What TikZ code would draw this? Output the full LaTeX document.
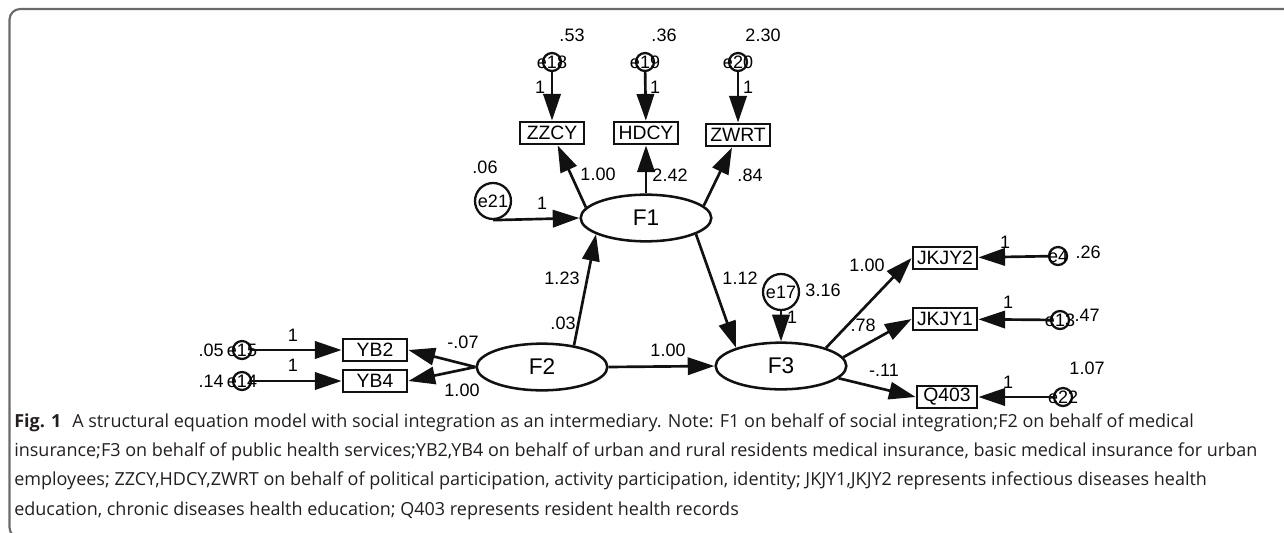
\documentclass[tikz,border=0pt]{standalone}
\usepackage{fontspec}
\setmainfont{Liberation Sans}
\newfontfamily\capfont{Open Sans}
\usepackage{xcolor}
\definecolor{cLine}{HTML}{111111}
\definecolor{cFrame}{HTML}{6A6A6A}
\definecolor{cText}{HTML}{231F20}
\usepackage{tikz}
\usetikzlibrary{positioning,arrows.meta,shapes.geometric}
\tikzset{
  node-obs/.style={draw=cLine,line width=2.1pt,rectangle,inner sep=0pt,
    minimum width=48pt,minimum height=16.5pt,font=\fontsize{14.5}{14.5}\selectfont},
  node-latent/.style={draw=cLine,line width=1.9pt,ellipse,inner sep=0pt,
    minimum width=98pt,minimum height=35pt,font=\fontsize{17}{17}\selectfont},
  node-err/.style={draw=cLine,line width=1.7pt,circle,inner sep=0pt,minimum size=13.5pt,
    label={[font=\fontsize{13.5}{14}\selectfont]center:#1}},
  node-err-big/.style={draw=cLine,line width=1.7pt,circle,inner sep=0pt,minimum size=27pt,
    font=\fontsize{13.5}{14}\selectfont},
  num/.style={inner sep=0pt,font=\fontsize{13.5}{14}\selectfont},
  arrow/.style={-{Triangle[length=20pt,width=13pt]},line width=2pt,draw=cLine},
}

\begin{document}
\begin{tikzpicture}[x=0.75pt,y=-0.75pt]
  \useasboundingbox (0,0) rectangle (1284,532);
  \draw[cFrame,line width=1.6pt,rounded corners=8pt] (1300,9) -- (9.5,9) -- (9.5,538) -- (1300,538);
  % indicators of F1
  \node[node-obs] (zzcy) at (552,133) {ZZCY};
  \node[node-obs] (hdcy) at (646,133) {HDCY};
  \node[node-obs] (zwrt) at (738,135) {ZWRT};
  \node[node-err=e18] (e18) at (552,62) {};
  \node[node-err=e19] (e19) at (645,62) {};
  \node[node-err=e20] (e20) at (738,62) {};
  % latent variables
  \node[node-latent] (f1) at (646,218) {F1};
  \node[node-latent] (f2) at (542,367) {F2};
  \node[node-latent] (f3) at (781,366) {F3};
  \node[node-err-big] (e21) at (493,201) {e21};
  \node[node-err-big] (e17) at (781,292) {e17};
  % indicators of F2
  \node[node-obs] (yb2) at (375,350) {YB2};
  \node[node-obs] (yb4) at (375,381) {YB4};
  \node[node-err=e15] (e15) at (242,350) {};
  \node[node-err=e14] (e14) at (242,381) {};
  % indicators of F3
  \node[node-obs] (jkjy2) at (945,258) {JKJY2};
  \node[node-obs] (jkjy1) at (945,319) {JKJY1};
  \node[node-obs,minimum width=45pt] (q403) at (947,397) {Q403};
  \node[node-err=e4] (e4) at (1058,256) {};
  \node[node-err=e13] (e13) at (1060,320) {};
  \node[node-err=e22] (e22) at (1063,397) {};
  % paths
  \draw[arrow] (e18) -- (zzcy);
  \draw[arrow] (e19) -- (hdcy);
  \draw[arrow] (e20) -- (zwrt);
  \draw[arrow] (f1.170) -- (zzcy);
  \draw[arrow] (f1) -- (hdcy);
  \draw[arrow] (f1.12) -- (zwrt);
  \draw[arrow] (e21.south) -- (f1.west);
  \draw[arrow] (f2.34) -- (f1.198);
  \draw[arrow] (f1.342) -- (f3.158);
  \draw[arrow] (f2.east) -- (f3.west);
  \draw[arrow] (e17) -- (f3);
  \draw[arrow] (f2.west) -- (yb2.east);
  \draw[arrow] (f2.west) -- (yb4.east);
  \draw[arrow] (e15) -- (yb2);
  \draw[arrow] (e14) -- (yb4);
  \draw[arrow] (f3.22) -- (jkjy2.west);
  \draw[arrow] (f3.8) -- (jkjy1.west);
  \draw[arrow] (f3.348) -- (q403.west);
  \draw[arrow] (e4) -- (jkjy2);
  \draw[arrow] (e13) -- (jkjy1);
  \draw[arrow] (e22) -- (q403);
  % estimates
  \node[num] (v53)  at (572,35) {.53};
  \node[num] (v36)  at (664,35) {.36};
  \node[num] (v230) at (763,35) {2.30};
  \node[num] (w18)  at (540,87) {1};
  \node[num] (w19)  at (655,87) {1};
  \node[num] (w20)  at (748,87) {1};
  \node[num] (l1)   at (598,174) {1.00};
  \node[num] (l2)   at (670,175) {2.42};
  \node[num] (l3)   at (750,175) {.84};
  \node[num] (v06)  at (485,167) {.06};
  \node[num] (w21)  at (542,203) {1};
  \node[num] (b21)  at (562,278) {1.23};
  \node[num] (b13)  at (740,278) {1.12};
  \node[num] (v316) at (823,290) {3.16};
  \node[num] (w17)  at (792,317) {1};
  \node[num] (c21)  at (563,323) {.03};
  \node[num] (l4)   at (463,342) {-.07};
  \node[num] (l5)   at (462,390) {1.00};
  \node[num] (w15)  at (293,335) {1};
  \node[num] (w14)  at (293,365) {1};
  \node[num,anchor=east] (v05) at (224,350) {.05};
  \node[num,anchor=east] (v14) at (224,381) {.14};
  \node[num] (b23)  at (668,350) {1.00};
  \node[num] (l6)   at (867,265) {1.00};
  \node[num] (l7)   at (863,325) {.78};
  \node[num] (l8)   at (884,370) {-.11};
  \node[num] (w4)   at (1005,242) {1};
  \node[num] (v26)  at (1088,252) {.26};
  \node[num] (w13)  at (1008,302) {1};
  \node[num] (v47)  at (1087,315) {.47};
  \node[num] (w22)  at (1008,382) {1};
  \node[num] (v107) at (1087,368) {1.07};
  % caption
  \node[anchor=north west,inner sep=0pt,align=left,text=cText,
    font=\capfont\fontsize{13.5}{22}\selectfont] (cap) at (14,413)
    {\textbf{Fig. 1}\hspace{0.6em}A structural equation model with social integration as an intermediary. Note: F1 on behalf of social integration;F2 on behalf of medical\\
     insurance;F3 on behalf of public health services;YB2,YB4 on behalf of urban and rural residents medical insurance, basic medical insurance for urban\\
     employees; ZZCY,HDCY,ZWRT on behalf of political participation, activity participation, identity; JKJY1,JKJY2 represents infectious diseases health\\
     education, chronic diseases health education; Q403 represents resident health records};
\end{tikzpicture}
\end{document}
